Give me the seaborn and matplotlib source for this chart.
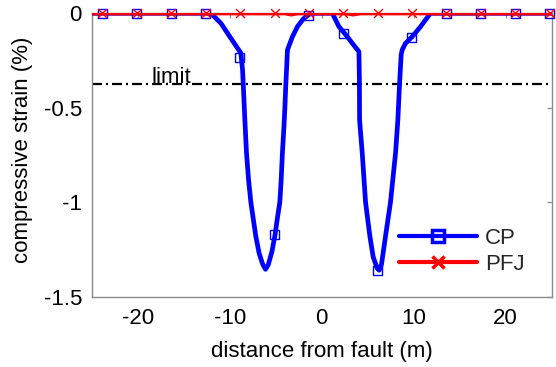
import matplotlib
matplotlib.use("Agg")
import matplotlib.pyplot as plt
from matplotlib.lines import Line2D
import seaborn as sns
import pandas as pd

# ---- data ----
cp_x = [-25.0, -12.5, -12.04, -10.95, -10.23, -9.5, -8.79, -8.6, -8.5, -8.35, -8.17,
        -7.95, -7.7, -7.4, -7.16, -6.8, -6.4, -6.1, -5.8, -5.4, -5.06, -4.8, -4.55,
        -4.4, -4.27, -4.1, -4.0, -3.9, -3.8, -3.72, -3.18, -2.64, -2.0, -1.2, 1.16,
        1.88, 2.79, 3.33, 4.05, 4.1, 4.12, 4.41, 4.77, 5.24, 5.6, 6.04, 6.25, 6.5,
        6.94, 7.48, 8.03, 8.28, 8.46, 8.64, 8.75, 9.11, 9.84, 10.74, 11.82, 25.0]
cp_y = [0.0, 0.0, 0.0, -0.053, -0.106, -0.159, -0.21, -0.30, -0.40, -0.565, -0.74,
        -0.88, -1.0, -1.1, -1.18, -1.27, -1.33, -1.355, -1.33, -1.26, -1.17, -1.08, -1.0,
        -0.88, -0.74, -0.6, -0.5, -0.38, -0.28, -0.194, -0.124, -0.071, -0.03, 0.0, 0.0,
        -0.071, -0.124, -0.159, -0.203, -0.35, -0.565, -0.74, -1.0, -1.18, -1.29, -1.35, -1.36, -1.33,
        -1.18, -1.0, -0.74, -0.565, -0.38, -0.22, -0.194, -0.159, -0.124, -0.071, 0.0, 0.0]

pfj_x = [-25.0, -4.0, -3.3, -2.6, 2.6, 3.4, 4.2, 25.0]
pfj_y = [0.0, 0.0, -0.006, 0.0, 0.0, -0.006, 0.0, 0.0]

marker_x = [-23.85, -20.1, -16.35, -12.6, -8.9, -5.1, -1.4, 2.35, 6.1, 9.8,
            13.55, 17.3, 21.05, 24.8]
cp_marker_y = [0.0, 0.0, 0.0, 0.0, -0.233, -1.17, -0.01, -0.106, -1.36, -0.129,
               0.0, 0.0, 0.0, 0.0]
pfj_marker_y = [0.0] * 14

limit_value = -0.375
limit_label = "limit"

x_ticks = [-20, -10, 0, 10, 20]
x_tick_labels = ["-20", "-10", "0", "10", "20"]
y_ticks = [0, -0.5, -1, -1.5]
y_tick_labels = ["0", "-0.5", "-1", "-1.5"]

series_names = ["CP", "PFJ"]
x_label = "distance from fault (m)"
y_label = "compressive strain (%)"

# ---- style ----
sns.set_style("white")
plt.rcParams["font.family"] = ["Liberation Sans", "DejaVu Sans"]
FS = 16
BLUE = "#0000ff"
RED = "#ff0000"
GRAY = "#8a8a8a"

fig = plt.figure(figsize=(5.56, 3.67), dpi=100)
ax = fig.add_axes([0.1649, 0.1916, 0.8273, 0.7722])

# limit line
ax.axhline(limit_value, color="black", lw=1.6, linestyle=(0, (4.5, 1.8, 0.9, 1.8)), zorder=1)
ax.text(-18.45, limit_value + 0.005, limit_label, fontsize=FS, va="baseline", ha="left",
        color="black", zorder=2)

cp_df = pd.DataFrame({"x": cp_x, "y": cp_y})
pfj_df = pd.DataFrame({"x": pfj_x, "y": pfj_y})
mk_df = pd.DataFrame({"x": marker_x, "cp": cp_marker_y, "pfj": pfj_marker_y})

sns.lineplot(data=cp_df, x="x", y="y", sort=False, estimator=None, color=BLUE, lw=3.4,
             ax=ax, zorder=3)
sns.scatterplot(data=mk_df, x="x", y="cp", marker="s", s=40, facecolor="none",
                edgecolor=BLUE, linewidth=1.0, ax=ax, zorder=4, clip_on=False)
sns.lineplot(data=pfj_df, x="x", y="y", sort=False, estimator=None, color=RED, lw=3,
             ax=ax, zorder=5)
sns.scatterplot(data=mk_df, x="x", y="pfj", marker="x", s=40, color=RED,
                linewidth=1.0, ax=ax, zorder=6, clip_on=False)

ax.set_xlim(-25, 25)
ax.set_ylim(-1.5, 0)
ax.set_xticks(x_ticks)
ax.set_xticklabels(x_tick_labels)
ax.set_yticks(y_ticks)
ax.set_yticklabels(y_tick_labels)
ax.tick_params(axis="both", direction="in", length=3.6, width=0.9, color=GRAY,
               labelsize=FS, labelcolor="black", top=True, right=True)
ax.tick_params(axis="x", pad=8)
ax.tick_params(axis="y", pad=7)
for sp in ax.spines.values():
    sp.set_visible(True)
    sp.set_color(GRAY)
    sp.set_linewidth(1.0)

ax.set_xlabel(x_label, fontsize=FS, color="black")
ax.set_ylabel(y_label, fontsize=FS, color="black")
ax.xaxis.set_label_coords(0.5, -0.155)
ax.yaxis.set_label_coords(-0.128, 0.52)

handles = [
    Line2D([0], [0], color=BLUE, lw=3, marker="s", markersize=8, markerfacecolor="none",
           markeredgecolor=BLUE, markeredgewidth=2.5),
    Line2D([0], [0], color=RED, lw=3, marker="x", markersize=8, markeredgecolor=RED,
           markeredgewidth=2.5),
]
ax.legend(handles, series_names, loc="center left", bbox_to_anchor=(0.669, 0.16),
          frameon=False, fontsize=FS, handlelength=3.5, handletextpad=0.35,
          labelspacing=0.2, borderpad=0, borderaxespad=0)

fig.savefig("out.png", dpi=100)
